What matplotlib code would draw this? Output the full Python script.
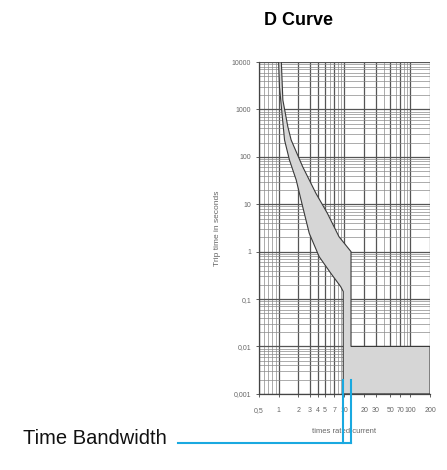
import numpy as np
import matplotlib
matplotlib.use("Agg")
import matplotlib.pyplot as plt
from matplotlib import ticker
from matplotlib.lines import Line2D
from matplotlib.transforms import blended_transform_factory

plt.rcParams['font.family'] = ['Liberation Sans', 'DejaVu Sans']

# tripping band of the D curve (multiples of rated current, seconds)
lower_I = [1.0, 1.03, 1.23, 1.46, 1.85, 2.32, 2.92, 4.13, 6.2, 8.77, 9.6]
lower_t = [10000, 3000, 227, 86, 32.5, 8.9, 2.44, 0.785, 0.351, 0.183, 0.144]
upper_I = [1.10, 1.16, 1.38, 1.55, 2.32, 3.69, 5.51, 8.27, 12.6]
upper_t = [10000, 1580, 432, 227, 62, 17, 6.45, 2.07, 1.0]

mag_lo = 9.6      # instantaneous trip, lower limit
mag_hi = 12.6     # instantaneous trip, upper limit
t_break = 0.01
t_min = 0.001
I_max = 200

x_ticks = [0.5, 1, 2, 3, 4, 5, 7, 10, 20, 30, 50, 70, 100, 200]
x_labels = ["0,5", "1", "2", "3", "4", "5", "7", "10", "20", "30", "50", "70", "100", "200"]
y_ticks = [0.001, 0.01, 0.1, 1, 10, 100, 1000, 10000]
y_labels = ["0,001", "0,01", "0,1", "1", "10", "100", "1000", "10000"]

fig = plt.figure(figsize=(4.47, 4.70), dpi=100)
ax = fig.add_axes([0.579, 0.162, 0.383, 0.706])

# band polygon
px = list(lower_I) + [mag_lo, I_max, I_max, mag_hi] + upper_I[::-1]
py = list(lower_t) + [t_min, t_min, t_break, t_break] + upper_t[::-1]
ax.fill(px, py, facecolor="#d6d6d6", edgecolor="#3a3a3a", lw=0.8, zorder=3)

ax.set_xscale("log")
ax.set_yscale("log")
ax.set_xlim(0.5, 200)
ax.set_ylim(0.001, 10000)

ax.xaxis.set_major_locator(ticker.FixedLocator(x_ticks))
ax.xaxis.set_major_formatter(ticker.FixedFormatter(x_labels))
ax.xaxis.set_minor_locator(ticker.LogLocator(base=10, subs=np.arange(2, 10), numticks=100))
ax.xaxis.set_minor_formatter(ticker.NullFormatter())
ax.yaxis.set_major_locator(ticker.FixedLocator(y_ticks))
ax.yaxis.set_major_formatter(ticker.FixedFormatter(y_labels))
ax.yaxis.set_minor_locator(ticker.LogLocator(base=10, subs=np.arange(2, 10), numticks=100))
ax.yaxis.set_minor_formatter(ticker.NullFormatter())

ax.set_axisbelow(True)
ax.grid(True, which="major", color="#555555", lw=0.9)
ax.grid(True, which="minor", color="#8a8a8a", lw=0.5)

for s in ["top", "right"]:
    ax.spines[s].set_visible(False)
for s in ["left", "bottom"]:
    ax.spines[s].set_color("#444444")
    ax.spines[s].set_linewidth(0.9)

ax.tick_params(axis="both", which="major", labelsize=5, colors="#444444",
               labelcolor="#666666", length=2.5, width=0.6, pad=3)
ax.tick_params(axis="x", which="major", pad=7)
ax.tick_params(axis="both", which="minor", length=0)

ax.set_xlabel("times rated current", fontsize=5.5, color="#666666", labelpad=10)
ax.set_ylabel("Trip time in seconds", fontsize=6, color="#666666", labelpad=8)
fig.text(0.667, 0.957, "D Curve", fontsize=13, fontweight="bold", ha="center", va="center")

# Time Bandwidth annotation
blue = "#1aa9e0"
bt = blended_transform_factory(ax.transData, fig.transFigure)
for xv in [mag_lo, mag_hi]:
    fig.add_artist(Line2D([xv, xv], [0.1915, 0.0574], transform=bt, color=blue,
                          lw=1.5, clip_on=False, zorder=5))
xr = fig.transFigure.inverted().transform(ax.transData.transform((mag_hi, 1)))[0]
fig.add_artist(Line2D([0.398, xr], [0.0574, 0.0574], transform=fig.transFigure,
                      color=blue, lw=1.5, zorder=5))
fig.text(0.051, 0.055, "Time Bandwidth", fontsize=14.5, ha="left", va="baseline",
         color="#111111")

plt.savefig("out.png", dpi=100)
